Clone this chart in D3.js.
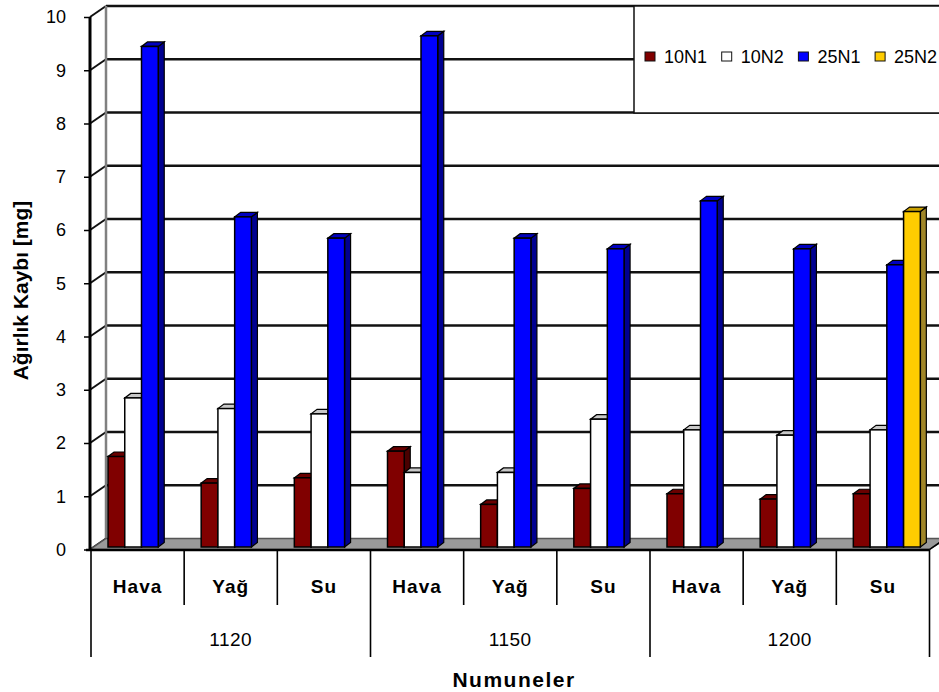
<!DOCTYPE html>
<html>
<head>
<meta charset="utf-8">
<script src="https://cdn.jsdelivr.net/npm/d3@7"></script>
<style>
  html, body { margin: 0; padding: 0; background: #fff; }
  svg { display: block; font-family: Arial, "Liberation Sans", sans-serif; }
</style>
</head>
<body>
<svg id="chart" width="939" height="692"></svg>
<script>
// Weight loss per sample, grouped by temperature and medium
const categories = ["Hava", "Yağ", "Su", "Hava", "Yağ", "Su", "Hava", "Yağ", "Su"];
const groups = ["1120", "1150", "1200"];
const seriesNames = ["10N1", "10N2", "25N1", "25N2"];
const s10N1 = [1.7, 1.2, 1.3, 1.8, 0.8, 1.1, 1.0, 0.9, 1.0];
const s10N2 = [2.8, 2.6, 2.5, 1.4, 1.4, 2.4, 2.2, 2.1, 2.2];
const s25N1 = [9.4, 6.2, 5.8, 9.6, 5.8, 5.6, 6.5, 5.6, 5.3];
const s25N2 = [null, null, null, null, null, null, null, null, 6.3];
const yTicks = [0, 1, 2, 3, 4, 5, 6, 7, 8, 9, 10];

const series = [s10N1, s10N2, s25N1, s25N2];
// front / top / side shades for each series
const palette = [
  { front: "#800000", top: "#6a0000", side: "#4a0000" },
  { front: "#ffffff", top: "#c8c8c8", side: "#d8d8d8" },
  { front: "#0000ff", top: "#0000c0", side: "#000090" },
  { front: "#ffcc00", top: "#c9a000", side: "#a08628" }
];

const svg = d3.select("#chart");

// Depth of the 3D box (front plane -> back wall)
const DX = 16, DY = -11;
// Depth of one column
const BDX = 6, BDY = -4.5;

const x = d3.scaleBand().domain(d3.range(categories.length)).range([91, 929.5]);
const inner = d3.scaleBand().domain(seriesNames).range([17, 84]);
const yFront = d3.scaleLinear().domain([0, 10]).range([549.5, 17]);
const yBar = d3.scaleLinear().domain([0, 10]).range([547, 14.5]);

const x0 = x.range()[0] - 1, x1 = x.range()[1];

// Back wall
svg.append("rect")
  .attr("x", x0 + DX).attr("y", yFront(10) + DY)
  .attr("width", 960 - (x0 + DX)).attr("height", yFront(0) - yFront(10))
  .attr("fill", "#fff");

// Horizontal gridlines on the back wall + connectors on the side wall
const grid = svg.append("g");
yTicks.forEach(t => {
  const yb = yFront(t) + DY;
  if (t > 0) {
    grid.append("line")
      .attr("x1", x0 + DX).attr("x2", 960)
      .attr("y1", yb).attr("y2", yb)
      .attr("stroke", "#111").attr("stroke-width", 2.5);
  }
  grid.append("line")
    .attr("x1", x0).attr("y1", yFront(t))
    .attr("x2", x0 + DX).attr("y2", yb)
    .attr("stroke", "#111").attr("stroke-width", 2);
});

// Left edge of the back wall
svg.append("line")
  .attr("x1", x0 + DX).attr("x2", x0 + DX)
  .attr("y1", yFront(10) + DY).attr("y2", yFront(0) + DY)
  .attr("stroke", "#808080").attr("stroke-width", 2.5);

// Floor
svg.append("path")
  .attr("d", d3.line()([
    [x0, yFront(0)], [x1, yFront(0)],
    [x1 + DX, yFront(0) + DY], [x0 + DX, yFront(0) + DY]
  ]) + "Z")
  .attr("fill", "#9a9a9a").attr("stroke", "#555").attr("stroke-width", 1.5);

// Legend
const legend = svg.append("g");
legend.append("rect")
  .attr("x", 634).attr("y", yFront(10) + DY)
  .attr("width", 320).attr("height", 107)
  .attr("fill", "#fff").attr("stroke", "#111").attr("stroke-width", 1.5);
seriesNames.forEach((name, i) => {
  const lx = 645 + i * 76.7;
  legend.append("rect")
    .attr("x", lx).attr("y", 52).attr("width", 10).attr("height", 9)
    .attr("fill", palette[i].front).attr("stroke", "#111").attr("stroke-width", 1);
  legend.append("text")
    .attr("x", lx + 19).attr("y", 63)
    .attr("font-size", 18).attr("fill", "#000")
    .text(name);
});

// 3D columns
const bars = svg.append("g");
categories.forEach((c, ci) => {
  series.forEach((vals, si) => {
    const v = vals[ci];
    if (v == null) return;
    const bx0 = x(ci) + inner(seriesNames[si]);
    const bx1 = bx0 + inner.bandwidth();
    const yt = yBar(v), yb = yBar(0);
    const col = palette[si];
    bars.append("path")
      .attr("d", d3.line()([[bx1, yt], [bx1 + BDX, yt + BDY], [bx1 + BDX, yb + BDY], [bx1, yb]]) + "Z")
      .attr("fill", col.side).attr("stroke", "#000").attr("stroke-width", 1.2);
    bars.append("path")
      .attr("d", d3.line()([[bx0, yt], [bx1, yt], [bx1 + BDX, yt + BDY], [bx0 + BDX, yt + BDY]]) + "Z")
      .attr("fill", col.top).attr("stroke", "#000").attr("stroke-width", 1.2);
    bars.append("rect")
      .attr("x", bx0).attr("y", yt)
      .attr("width", bx1 - bx0).attr("height", yb - yt)
      .attr("fill", col.front).attr("stroke", "#000").attr("stroke-width", 1.5);
  });
});

// Value axis (front left edge)
svg.append("line")
  .attr("x1", x0).attr("x2", x0)
  .attr("y1", yFront(10)).attr("y2", yFront(0))
  .attr("stroke", "#000").attr("stroke-width", 3);
const yAxis = svg.append("g")
  .attr("transform", `translate(${x0},0)`)
  .call(d3.axisLeft(yFront).tickValues(yTicks).tickSize(6).tickPadding(18).tickFormat(d3.format("d")));
yAxis.select(".domain").remove();
yAxis.selectAll(".tick line").attr("stroke", "#000").attr("stroke-width", 1.5);
yAxis.selectAll(".tick text")
  .attr("font-size", 18).attr("fill", "#000")
  .attr("font-family", "Arial, 'Liberation Sans', sans-serif");

// Category axis: front edge of the floor and right edge
svg.append("line")
  .attr("x1", x0 - 4).attr("x2", x1)
  .attr("y1", yFront(0) + 0.5).attr("y2", yFront(0) + 0.5)
  .attr("stroke", "#000").attr("stroke-width", 2.5);
svg.append("line")
  .attr("x1", x1).attr("y1", yFront(0))
  .attr("x2", x1 + DX).attr("y2", yFront(0) + DY)
  .attr("stroke", "#000").attr("stroke-width", 1.5);

// Category table below the floor
const table = svg.append("g");
for (let i = 0; i <= categories.length; i++) {
  const bx = i === categories.length ? x1 : x(i);
  const major = i % 3 === 0;
  table.append("line")
    .attr("x1", bx).attr("x2", bx)
    .attr("y1", yFront(0)).attr("y2", major ? 657 : 605)
    .attr("stroke", "#000").attr("stroke-width", 1.6);
}
categories.forEach((c, i) => {
  table.append("text")
    .attr("x", x(i) + x.bandwidth() / 2).attr("y", 593)
    .attr("text-anchor", "middle")
    .attr("font-size", 19).attr("font-weight", "bold").attr("letter-spacing", 1)
    .text(c);
});
groups.forEach((g, gi) => {
  const gx = (x(gi * 3) + (gi === 2 ? x1 : x(gi * 3 + 3))) / 2;
  table.append("text")
    .attr("x", gx).attr("y", 646)
    .attr("text-anchor", "middle")
    .attr("font-size", 19).attr("letter-spacing", 0.5)
    .text(g);
});

// Axis titles
svg.append("text")
  .attr("x", 514).attr("y", 687)
  .attr("text-anchor", "middle")
  .attr("font-size", 21).attr("font-weight", "bold").attr("letter-spacing", 1.5)
  .text("Numuneler");
svg.append("text")
  .attr("transform", "translate(28,290.5) rotate(-90)")
  .attr("text-anchor", "middle")
  .attr("font-size", 21).attr("font-weight", "bold")
  .text("Ağırlık Kaybı [mg]");
</script>
</body>
</html>
